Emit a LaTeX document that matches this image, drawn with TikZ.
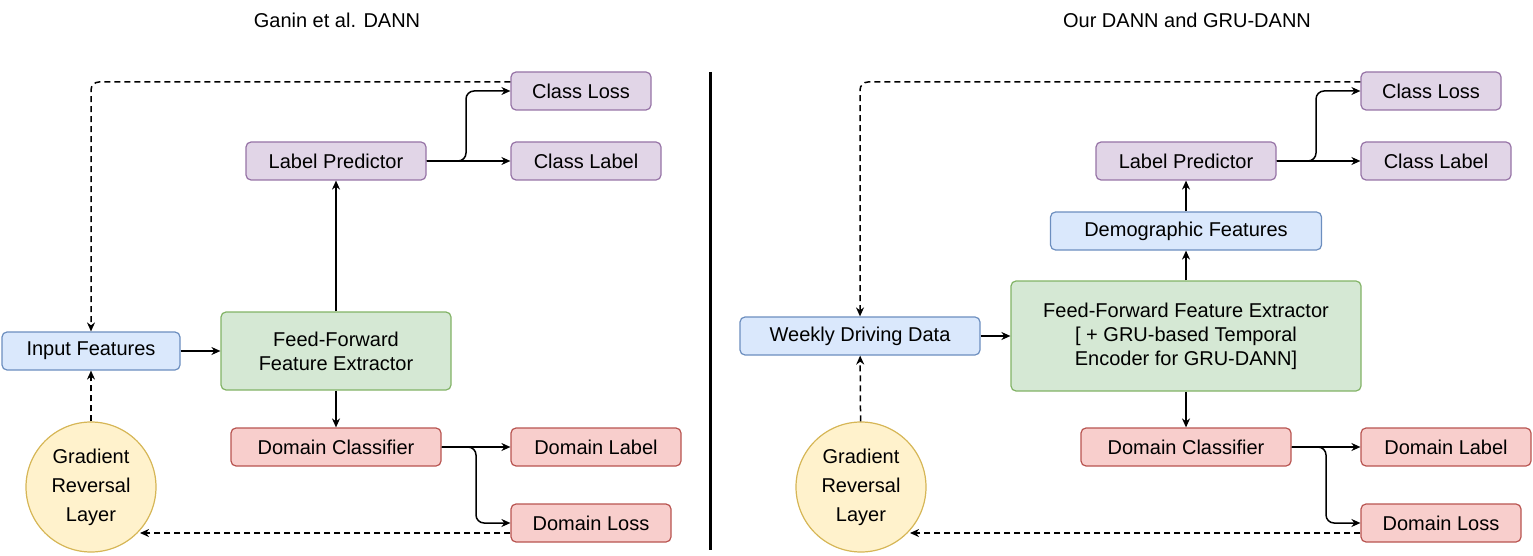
\documentclass[tikz,border=0pt]{standalone}
\usepackage{fontspec}
\setmainfont{Liberation Sans}
\usetikzlibrary{arrows.meta}
\definecolor{bF}{HTML}{DAE8FC}\definecolor{bD}{HTML}{6C8EBF}
\definecolor{gF}{HTML}{D5E8D4}\definecolor{gD}{HTML}{82B366}
\definecolor{pF}{HTML}{E1D5E7}\definecolor{pD}{HTML}{9673A6}
\definecolor{rF}{HTML}{F8CECC}\definecolor{rD}{HTML}{B85450}
\definecolor{yF}{HTML}{FFF2CC}\definecolor{yD}{HTML}{D6B656}
\begin{document}
\begin{tikzpicture}[x=1pt,y=-1pt,
  every node/.style={font=\fontsize{20}{24}\selectfont},
  box/.style={draw,rounded corners=5pt,line width=1.2pt,align=center,inner sep=0pt},
  blue/.style={box,fill=bF,draw=bD},green/.style={box,fill=gF,draw=gD},
  purp/.style={box,fill=pF,draw=pD},red/.style={box,fill=rF,draw=rD},
  grl/.style={circle,draw=yD,fill=yF,line width=1.2pt,minimum size=130pt,align=center,inner sep=0pt,font=\fontsize{20}{29}\selectfont},
  ar/.style={line width=1.5pt,-{Stealth[length=9pt,width=8pt]},rounded corners=8pt},
  da/.style={ar,dashed,dash pattern=on 6pt off 4pt}]
\useasboundingbox (0,0) rectangle (1533,556);
\node at (337,20) {Ganin et al. DANN};
\node at (1187,20) {Our DANN and GRU-DANN};
\draw[line width=3pt] (710,72) -- (710,550);
% left
\node[blue,minimum width=178pt,minimum height=38pt] (in) at (91,351) {Input Features};
\node[green,minimum width=230pt,minimum height=78pt] (fe) at (336,351) {Feed-Forward\\Feature Extractor};
\node[purp,minimum width=180pt,minimum height=38pt] (lp) at (336,161) {Label Predictor};
\node[purp,minimum width=140pt,minimum height=38pt] (cl) at (581,91) {Class Loss};
\node[purp,minimum width=150pt,minimum height=38pt] (clab) at (586,161) {Class Label};
\node[red,minimum width=210pt,minimum height=38pt] (dc) at (336,447) {Domain Classifier};
\node[red,minimum width=170pt,minimum height=38pt] (dl) at (596,447) {Domain Label};
\node[red,minimum width=160pt,minimum height=38pt] (dlo) at (591,523) {Domain Loss};
\node[grl] (g) at (91,487) {Gradient\\Reversal\\Layer};
\draw[ar] (in) -- (fe);
\draw[ar] (fe) -- (lp);
\draw[ar] (fe) -- (dc);
\draw[ar] (lp) -- (clab);
\draw[ar] (lp.east) -| (466,126) |- (cl.west);
\draw[ar] (dc) -- (dl);
\draw[ar] (dc.east) -| (476,490) |- (dlo.west);
\draw[da] (cl.west |- 0,82) -| (in.north);
\draw[da] (dlo.west |- 0,533) -- (140,533);
\draw[da] (g) -- (in);
% right
\node[blue,minimum width=240pt,minimum height=38pt] (in2) at (860,336) {Weekly Driving Data};
\node[green,minimum width=350pt,minimum height=110pt] (fe2) at (1186,336) {Feed-Forward Feature Extractor\\{}[ + GRU-based Temporal\\Encoder for GRU-DANN]};
\node[blue,minimum width=271pt,minimum height=38pt] (df) at (1186,231) {Demographic Features};
\node[purp,minimum width=180pt,minimum height=38pt] (lp2) at (1186,161) {Label Predictor};
\node[purp,minimum width=140pt,minimum height=38pt] (cl2) at (1431,91) {Class Loss};
\node[purp,minimum width=150pt,minimum height=38pt] (clab2) at (1436,161) {Class Label};
\node[red,minimum width=210pt,minimum height=38pt] (dc2) at (1186,447) {Domain Classifier};
\node[red,minimum width=170pt,minimum height=38pt] (dl2) at (1446,447) {Domain Label};
\node[red,minimum width=160pt,minimum height=38pt] (dlo2) at (1441,523) {Domain Loss};
\node[grl] (g2) at (861,487) {Gradient\\Reversal\\Layer};
\draw[ar] (in2) -- (fe2);
\draw[ar] (fe2) -- (df);
\draw[ar] (df) -- (lp2);
\draw[ar] (fe2) -- (dc2);
\draw[ar] (lp2) -- (clab2);
\draw[ar] (lp2.east) -| (1316,126) |- (cl2.west);
\draw[ar] (dc2) -- (dl2);
\draw[ar] (dc2.east) -| (1326,490) |- (dlo2.west);
\draw[da] (cl2.west |- 0,82) -| (in2.north);
\draw[da] (dlo2.west |- 0,533) -- (910,533);
\draw[da] (g2) -- (in2);
\end{tikzpicture}
\end{document}
